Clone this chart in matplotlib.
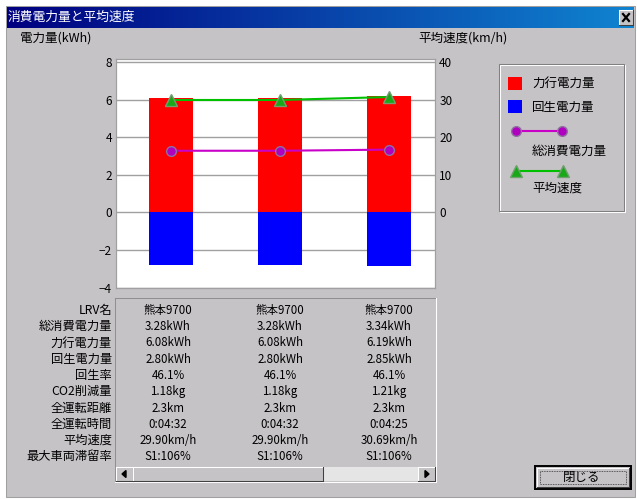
import numpy as np
import matplotlib
matplotlib.use('Agg')
import matplotlib.pyplot as plt
from matplotlib.patches import Rectangle, Polygon
from matplotlib.colors import LinearSegmentedColormap

plt.rcParams['font.family'] = ['Noto Sans CJK JP', 'DejaVu Sans']
plt.rcParams['axes.unicode_minus'] = True

# ---- データ ----
trains = ['熊本9700', '熊本9700', '熊本9700']
total_kwh = [3.28, 3.28, 3.34]      # 総消費電力量
power_kwh = [6.08, 6.08, 6.19]      # 力行電力量
regen_kwh = [2.80, 2.80, 2.85]      # 回生電力量
regen_rate = [46.1, 46.1, 46.1]     # 回生率 %
co2_kg = [1.18, 1.18, 1.21]
distance_km = [2.3, 2.3, 2.3]
run_time = ['0:04:32', '0:04:32', '0:04:25']
avg_speed = [29.90, 29.90, 30.69]   # km/h
max_dwell = ['S1:106%', 'S1:106%', 'S1:106%']

row_names = ['LRV名', '総消費電力量', '力行電力量', '回生電力量', '回生率',
             'CO2削減量', '全運転距離', '全運転時間', '平均速度', '最大車両滞留率']
kwh_ticks = [-4, -2, 0, 2, 4, 6, 8]
speed_ticks = [0, 10, 20, 30, 40]

GRAY = '#c6c3c6'
W, H = 637, 499

fig = plt.figure(figsize=(W / 100, H / 100), dpi=100)
fig.patch.set_facecolor('white')

# 背景(ウィンドウ)はピクセル座標で描く
bg = fig.add_axes([0, 0, 1, 1])
bg.axis('off')


def box(x0, y0, x1, y1, face=GRAY, light='white', dark='#404040', lw=0.75):
    bg.add_patch(Rectangle((x0, y0), x1 - x0, y1 - y0, facecolor=face, edgecolor='none', zorder=3))
    bg.plot([x0, x1], [y0, y0], color=light, lw=lw, zorder=4)
    bg.plot([x0, x0], [y0, y1], color=light, lw=lw, zorder=4)
    bg.plot([x0, x1], [y1, y1], color=dark, lw=lw, zorder=4)
    bg.plot([x1, x1], [y0, y1], color=dark, lw=lw, zorder=4)


# ウィンドウ本体
bg.add_patch(Rectangle((6, 6), 629, 491, facecolor=GRAY, edgecolor='#a0a0a0', lw=0.75, zorder=1))

# タイトルバー
cmap = LinearSegmentedColormap.from_list('title', ['#000080', '#1084d0'])
bg.imshow(np.linspace(0, 1, 256)[None, :], cmap=cmap, extent=(7, 634, 28, 7),
          aspect='auto', zorder=2)
bg.text(8, 17.5, '消費電力量と平均速度', color='white', fontsize=9.2, va='center', ha='left', zorder=5)
box(619, 10, 633, 25)
bg.plot([623, 629], [14, 21], color='black', lw=1.6, zorder=5)
bg.plot([623, 629], [21, 14], color='black', lw=1.6, zorder=5)

# 軸タイトル
bg.text(20, 38, '電力量(kWh)', fontsize=9, va='center', ha='left')
bg.text(418, 38, '平均速度(km/h)', fontsize=9, va='center', ha='left')

# 凡例
bg.add_patch(Rectangle((500, 65), 125, 147, facecolor='none', edgecolor='white', lw=0.75, zorder=3))
bg.add_patch(Rectangle((499, 64), 125, 147, facecolor='none', edgecolor='#808080', lw=0.75, zorder=3))
bg.add_patch(Rectangle((508, 77), 14, 13, facecolor='#ff0000', edgecolor='none', zorder=3))
bg.text(532, 83, '力行電力量', fontsize=9, va='center', ha='left')
bg.add_patch(Rectangle((508, 100), 14, 13, facecolor='#0000ff', edgecolor='none', zorder=3))
bg.text(532, 107, '回生電力量', fontsize=9, va='center', ha='left')
bg.plot([516, 562], [131, 131], color='#c800c8', lw=1.5, marker='o', markersize=7,
        markerfacecolor='#b000c0', markeredgecolor='#9070a0', zorder=3)
bg.text(532, 151, '総消費電力量', fontsize=9, va='center', ha='left')
bg.plot([516, 563], [171, 171], color='#00c000', lw=1.5, marker='^', markersize=8.5,
        markerfacecolor='#18a818', markeredgecolor='#70a070', zorder=3)
bg.text(532, 188, '平均速度', fontsize=9, va='center', ha='left')

# 表パネル
bg.plot([115, 436], [298, 298], color='#909090', lw=0.75, zorder=3)
bg.plot([115, 115], [298, 482], color='#909090', lw=0.75, zorder=3)
bg.plot([115, 436], [482, 482], color='white', lw=0.75, zorder=3)
bg.plot([436, 436], [298, 482], color='white', lw=0.75, zorder=3)

col_x = [168, 280, 389]
table_vals = [
    trains,
    [f'{v:.2f}kWh' for v in total_kwh],
    [f'{v:.2f}kWh' for v in power_kwh],
    [f'{v:.2f}kWh' for v in regen_kwh],
    [f'{v:.1f}%' for v in regen_rate],
    [f'{v:.2f}kg' for v in co2_kg],
    [f'{v:.1f}km' for v in distance_km],
    run_time,
    [f'{v:.2f}km/h' for v in avg_speed],
    max_dwell,
]
for i, name in enumerate(row_names):
    y = 310.5 + i * 16.25
    bg.text(112, y, name, fontsize=8.8, va='center', ha='right')
    for x, s in zip(col_x, table_vals[i]):
        bg.text(x, y, s, fontsize=8.3, va='center', ha='center')

# スクロールバー
bg.add_patch(Rectangle((116, 467), 319, 14, facecolor='#e6e5e6', edgecolor='none', hatch='....',
                       lw=0, zorder=2))
box(116, 467, 133, 481)
bg.add_patch(Polygon([[126, 470.5], [126, 477.5], [122, 474]], closed=True, color='black', zorder=5))
box(133, 467, 323, 481)
box(418, 467, 435, 481)
bg.add_patch(Polygon([[425, 470.5], [425, 477.5], [429, 474]], closed=True, color='black', zorder=5))

# 閉じるボタン
bg.add_patch(Rectangle((535, 466), 96, 23, facecolor=GRAY, edgecolor='black', lw=1.4, zorder=2))
box(537, 468, 629, 487)
bg.add_patch(Rectangle((540, 471), 86, 13, facecolor='none', edgecolor='#303030', lw=0.6,
                       linestyle=(0, (1, 1)), zorder=5))
bg.text(582, 477.5, '閉じる', fontsize=9, va='center', ha='center', zorder=5)

bg.set_xlim(0, W)
bg.set_ylim(H, 0)

# ---- グラフ ----
ax = fig.add_axes([116 / W, 1 - 288 / H, 319 / W, 229 / H])
ax.set_facecolor('white')
x = np.arange(len(power_kwh))
ax.bar(x, power_kwh, width=0.40, color='#ff0000', zorder=2)
ax.bar(x, [-v for v in regen_kwh], width=0.40, color='#0000ff', zorder=2)
ax.plot(x, total_kwh, color='#c800c8', lw=1.5, marker='o', markersize=7,
        markerfacecolor='#b000c0', markeredgecolor='#9070a0', zorder=3)
ax.set_xlim(-0.505, 2.42)
ax.set_ylim(-4.02, 8.16)
ax.set_yticks(kwh_ticks)
ax.set_xticks([])
ax.grid(axis='y', color='#a0a0a0', lw=1)
ax.set_axisbelow(True)
ax.tick_params(axis='y', length=0, pad=3, labelsize=8.5)
for s in ax.spines.values():
    s.set_color('#a0a0a0')
    s.set_linewidth(0.9)

ax2 = ax.twinx()
ax2.plot(x, avg_speed, color='#00c000', lw=1.5, marker='^', markersize=8.5,
         markerfacecolor='#18a818', markeredgecolor='#70a070')
ax2.set_ylim(-20.1, 40.8)
ax2.set_yticks(speed_ticks)
ax2.tick_params(axis='y', length=0, pad=3, labelsize=8.5)
for s in ax2.spines.values():
    s.set_visible(False)

fig.savefig('out.png', dpi=100)
